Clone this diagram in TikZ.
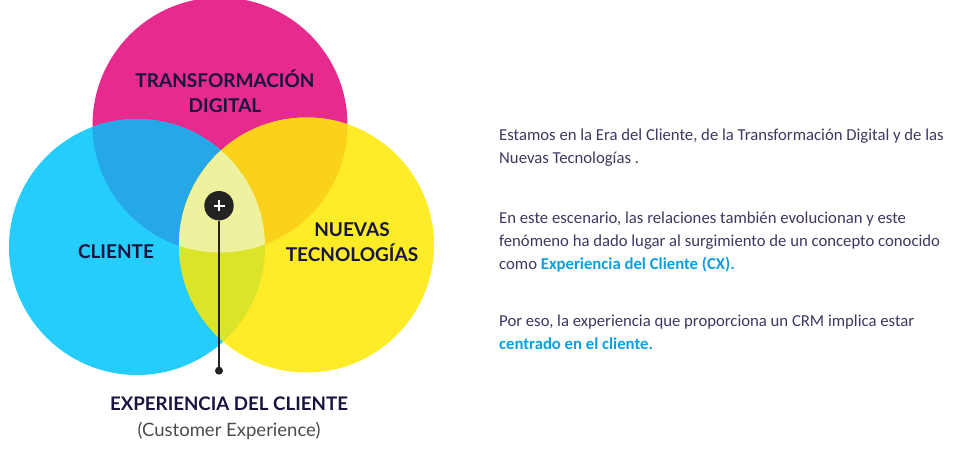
\documentclass[tikz,border=0pt]{standalone}
\usepackage{fontspec}
\setmainfont{Carlito}
\newfontfamily\headfont{Lato}
\definecolor{magC}{HTML}{E62A8E}
\definecolor{cyaC}{HTML}{25CDFB}
\definecolor{yelC}{HTML}{FDEC27}
\definecolor{cmC}{HTML}{26A8E8}
\definecolor{myC}{HTML}{FBD21B}
\definecolor{cyC}{HTML}{DCE42A}
\definecolor{midC}{HTML}{EEF29E}
\definecolor{navyC}{HTML}{17153F}
\definecolor{bodyC}{HTML}{3B3960}
\definecolor{blueC}{HTML}{0B9FE0}
\definecolor{markC}{HTML}{232323}
\tikzset{
  head/.style={font=\headfont\bfseries\fontsize{19}{25}\selectfont, text=navyC, align=center, inner sep=0pt},
  para/.style={font=\fontsize{16.7}{23}\selectfont, text=bodyC, align=left, anchor=base west, inner sep=0pt}
}
\newcommand{\hlt}[1]{{\bfseries\color{blueC}#1}}
\begin{document}
\begin{tikzpicture}[x=1pt,y=1pt]
\useasboundingbox (0,0) rectangle (967,459);
\clip (0,0) rectangle (967,459);
\coordinate (M) at (220,334);
\coordinate (C) at (137,212);
\coordinate (Y) at (306.5,214);
\fill[magC] (M) circle (127.5);
\fill[cyaC] (C) circle (128);
\fill[yelC] (Y) circle (127.5);
\begin{scope}\clip (M) circle (127.5); \fill[cmC] (C) circle (128); \end{scope}
\begin{scope}\clip (M) circle (127.5); \fill[myC] (Y) circle (127.5); \end{scope}
\begin{scope}\clip (C) circle (128); \fill[cyC] (Y) circle (127.5); \end{scope}
\begin{scope}\clip (C) circle (128); \clip (M) circle (127.5); \fill[midC] (Y) circle (127.5); \end{scope}

\node[head] (td) at (225,368) {TRANSFORMACIÓN\\DIGITAL};
\node[head] (cl) at (116,207) {CLIENTE};
\node[head] (nt) at (352,217) {NUEVAS\\TECNOLOGÍAS};

\node[circle, fill=markC, minimum size=29.4pt, inner sep=0pt] (plus) at (219,253.3) {};
\node[circle, fill=markC, minimum size=8pt, inner sep=0pt] (dot) at (219,88.3) {};
\draw[markC, line width=2.5pt] (plus) -- (dot);
\draw[white, line width=2.2pt] ([xshift=-5.5pt]plus.center) -- ([xshift=5.5pt]plus.center);
\draw[white, line width=2.2pt] ([yshift=-5.5pt]plus.center) -- ([yshift=5.5pt]plus.center);

\node[font=\headfont\bfseries\fontsize{18.7}{22}\selectfont, text=navyC, inner sep=0pt] (cx) at (229,55) {EXPERIENCIA DEL CLIENTE};
\node[font=\headfont\fontsize{18.5}{22}\selectfont, text=black!70, inner sep=0pt] (cxs) at (229,28) {(Customer Experience)};

\node[para] (p1) at (499,295.7) {Estamos en la Era del Cliente, de la Transformación Digital y de las\\Nuevas Tecnologías .};
\node[para] (p2) at (499,190) {En este escenario, las relaciones también evolucionan y este\\fenómeno ha dado lugar al surgimiento de un concepto conocido\\como \hlt{Experiencia del Cliente (CX).}};
\node[para] (p3) at (499,109.7) {Por eso, la experiencia que proporciona un CRM implica estar\\\hlt{centrado en el cliente.}};
\end{tikzpicture}
\end{document}
